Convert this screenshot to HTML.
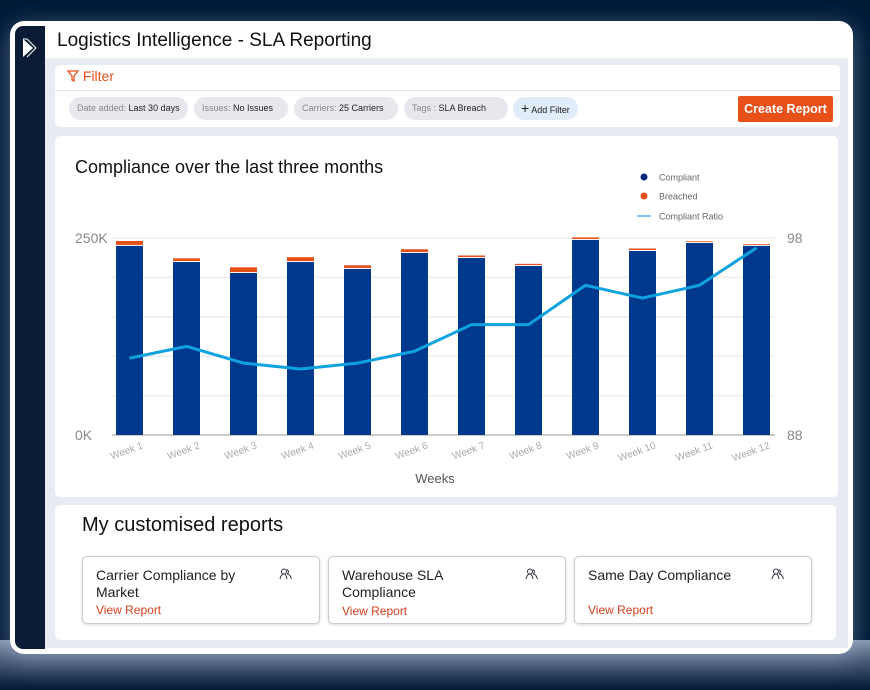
<!DOCTYPE html>
<html><head><meta charset="utf-8"><style>
*{box-sizing:border-box;margin:0;padding:0}
body{width:870px;height:690px;background:#011a38;font-family:"Liberation Sans",sans-serif;position:relative;overflow:hidden}
.glow{position:absolute;left:0;top:640px;width:870px;height:50px;background:linear-gradient(#8a9ab2,#4a5c78 40%,#011a38)}
.frame{position:absolute;left:10px;top:21px;width:843px;height:633px;background:#fff;border-radius:14px;box-shadow:0 6px 24px rgba(160,180,210,.5)}
.side{position:absolute;left:15px;top:26px;width:30px;height:623px;background:#0b1d36;border-radius:8px 0 0 8px}
.title{position:absolute;left:57px;top:30px;font-size:19px;color:#111}
.content{position:absolute;left:45px;top:58px;width:803px;height:590px;background:#e8ebf1}
.card{position:absolute;background:#fff;border-radius:5px}
.chip{position:absolute;top:97px;height:23px;border-radius:12px;background:#e6e8ee;font-size:9px;color:#222;line-height:23px;padding:0 8px;white-space:nowrap}
.chip span{color:#888}
.rc{position:absolute;top:556px;width:238px;height:68px;border:1px solid #ccc;border-radius:5px;background:#fff;box-shadow:0 1px 3px rgba(0,0,0,.15)}
.rc .t{position:absolute;left:13px;top:10px;font-size:14px;color:#222;line-height:17px;width:160px}
.rc .v{position:absolute;left:13px;font-size:12px;color:#d2401c}
.rc .i{position:absolute;right:26px;top:11px}
</style></head><body>
<div class="glow"></div>
<div class="frame"></div>
<div class="side"><svg width="30" height="40"><path d="M8 13 L18 22 L8 31 Z" fill="#fff"/><path d="M8 13 L12 13 L21 22 L12 31" fill="none" stroke="#fff" stroke-width="1"/></svg></div>
<div class="title">Logistics Intelligence - SLA Reporting</div>
<div class="content"></div>
<div class="card" style="left:55px;top:65px;width:785px;height:62px"></div>
<div style="position:absolute;left:55px;top:90px;width:785px;height:1px;background:#e3e3e3"></div>
<div style="position:absolute;left:67px;top:68px;font-size:14px;color:#e8501a"><svg width="12" height="12" style="vertical-align:-1px"><path d="M1 1 H11 L7 6 V11 L5 10 V6 Z" fill="none" stroke="#e8501a" stroke-width="1.3"/></svg> Filter</div>
<div class="chip" style="left:69px"><span>Date added:</span> Last 30 days</div>
<div class="chip" style="left:194px;width:94px"><span>Issues:</span> No Issues</div>
<div class="chip" style="left:294px;width:104px"><span>Carriers:</span> 25 Carriers</div>
<div class="chip" style="left:404px;width:104px"><span>Tags :</span> SLA Breach</div>
<div class="chip" style="left:513px;background:#e0ecfa"><b style="font-size:14px;font-weight:normal">+</b> Add Filter</div>
<div style="position:absolute;left:738px;top:96px;width:95px;height:26px;background:#e8501a;color:#fff;font-size:12.5px;font-weight:bold;text-align:center;line-height:26px;border-radius:2px">Create Report</div>

<div class="card" style="left:55px;top:136px;width:783px;height:361px"></div>
<div style="position:absolute;left:75px;top:157px;font-size:18px;color:#111">Compliance over the last three months</div>
<svg id="chart" width="870" height="690" style="position:absolute;left:0;top:0"></svg>

<div class="card" style="left:55px;top:505px;width:781px;height:135px"></div>
<div style="position:absolute;left:82px;top:514px;font-size:20px;color:#111">My customised reports</div>
<div class="rc" style="left:82px"><div class="t">Carrier Compliance by Market</div><svg class="i" width="14" height="12"><circle cx="5" cy="3.5" r="2.5" fill="none" stroke="#334" stroke-width="1"/><path d="M1 11 Q2 6 5 6 Q7 6 8 11" fill="none" stroke="#334"/><path d="M8 1.5 A2.5 2.5 0 0 1 8 6 Q11 6 12.5 11" fill="none" stroke="#334"/></svg><div class="v" style="top:46px">View Report</div></div>
<div class="rc" style="left:328px"><div class="t">Warehouse SLA Compliance</div><svg class="i" width="14" height="12"><circle cx="5" cy="3.5" r="2.5" fill="none" stroke="#334" stroke-width="1"/><path d="M1 11 Q2 6 5 6 Q7 6 8 11" fill="none" stroke="#334"/><path d="M8 1.5 A2.5 2.5 0 0 1 8 6 Q11 6 12.5 11" fill="none" stroke="#334"/></svg><div class="v" style="top:47px">View Report</div></div>
<div class="rc" style="left:574px"><div class="t">Same Day Compliance</div><svg class="i" width="14" height="12"><circle cx="5" cy="3.5" r="2.5" fill="none" stroke="#334" stroke-width="1"/><path d="M1 11 Q2 6 5 6 Q7 6 8 11" fill="none" stroke="#334"/><path d="M8 1.5 A2.5 2.5 0 0 1 8 6 Q11 6 12.5 11" fill="none" stroke="#334"/></svg><div class="v" style="top:46px">View Report</div></div>

<script>
const weeks=["Week 1","Week 2","Week 3","Week 4","Week 5","Week 6","Week 7","Week 8","Week 9","Week 10","Week 11","Week 12"];
const compliant=[240,219.5,205.6,219.5,210.7,231,224.6,214.5,247.5,233.5,243.6,240];
const breached=[5,3.5,6,5,3.5,3.5,2,1.5,2,2,1,1];
const ratio=[91.9,92.5,91.65,91.35,91.65,92.25,93.6,93.6,95.6,94.95,95.6,97.5];
const leftTicks=["0K","250K"];
const rightTicks=["88","98"];
const NS="http://www.w3.org/2000/svg";
const svg=document.getElementById('chart');
const y0=435,y1=238,x0=129.5,step=57;
const yL=v=>y0-(v/250)*(y0-y1);
const yR=v=>y0-((v-88)/10)*(y0-y1);
const xC=i=>x0+i*step;
function mk(t,a){const e=document.createElementNS(NS,t);for(const k in a)e.setAttribute(k,a[k]);svg.appendChild(e);return e;}
for(let g=0;g<=5;g++){const l=mk('line',{x1:112,x2:775,y1:yL(g*50),y2:yL(g*50),stroke:g==0?'#ccc':'#eee','stroke-width':g==0?2:1.5});

}
[[0,leftTicks[0]],[250,leftTicks[1]]].forEach(([v,t])=>{const e=mk('text',{x:75,y:yL(v)+5,'font-size':14,fill:'#888'});e.textContent=t;

});
[[88,rightTicks[0]],[98,rightTicks[1]]].forEach(([v,t])=>{const e=mk('text',{x:787,y:yR(v)+5,'font-size':14,fill:'#888'});e.textContent=t;

});
weeks.forEach((w,i)=>{
const x=xC(i)-13.5;
const c=mk('rect',{x:x,y:yL(compliant[i]),width:27,height:y0-yL(compliant[i]),fill:'#00388c'});


const top=yL(compliant[i]+1.2+breached[i]);
const b=mk('rect',{x:x,y:top,width:27,height:yL(compliant[i]+1.2)-top,fill:'#e8501a'});


const t=mk('text',{x:0,y:0,'font-size':10,fill:'#aaa','text-anchor':'end',transform:`translate(${xC(i)+14},${448}) rotate(-20)`});t.textContent=w;


});
const p=mk('polyline',{points:ratio.map((v,i)=>xC(i)+','+yR(v)).join(' '),fill:'none',stroke:'#0ea3e0','stroke-width':3,'stroke-linejoin':'round'});


const xt=mk('text',{x:435,y:483,'font-size':13,fill:'#555','text-anchor':'middle'});xt.textContent='Weeks';


[['Compliant','#00287a',177,'dot'],['Breached','#e8501a',196,'dot'],['Compliant Ratio','#7fc6ee',216,'line']].forEach(([n,col,y,k])=>{
const m=k=='dot'?mk('circle',{cx:644,cy:y,r:3.5,fill:col}):mk('line',{x1:637,x2:651,y1:y,y2:y,stroke:col,'stroke-width':2});


const t=mk('text',{x:659,y:y+3.5,'font-size':9,fill:'#666'});t.textContent=n;


});
</script>
</body></html>
